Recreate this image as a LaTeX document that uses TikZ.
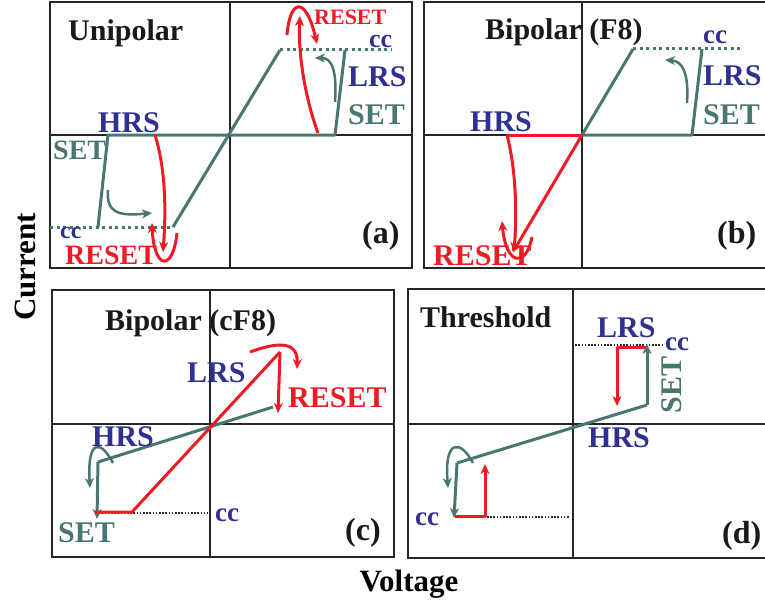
\documentclass[tikz,border=0pt]{standalone}
\usepackage{fontspec}
\setmainfont{Liberation Serif}
\usetikzlibrary{arrows.meta}
\definecolor{setcol}{HTML}{487670}
\definecolor{statecol}{HTML}{2E3192}
\definecolor{resetcol}{HTML}{ED1C24}

\tikzset{
  frame/.style={draw=black!85, line width=1.5pt},
  setline/.style={setcol, line width=3pt, line join=round},
  resetline/.style={resetcol, line width=3pt, line join=round},
  ccline/.style={setcol, line width=3pt, dash pattern=on 3pt off 3.5pt},
  limit/.style={black!85, line width=1.3pt, dash pattern=on 1.6pt off 1.6pt},
  tip/.style={-{Stealth[length=10pt,width=9pt,inset=3pt]}},
  txt/.style={inner sep=0pt, anchor=base west, font=\fontsize{#1}{#1}\selectfont\bfseries},
  txt/.default=30,
  title/.style={txt=30, text=black!90},
  state/.style={txt=#1, text=statecol},
  state/.default=30,
  setlbl/.style={txt=#1, text=setcol},
  setlbl/.default=30,
  resetlbl/.style={txt=#1, text=resetcol},
  resetlbl/.default=30,
  panel/.style={txt=32, text=black!90}
}

\begin{document}
\begin{tikzpicture}[x=1pt, y=-1pt]
\useasboundingbox (0,0) rectangle (765,610);

% (a) Unipolar
\draw[frame] (50,2) rectangle (412,268);
\draw[frame] (50,135) -- (412,135) (230,2) -- (230,268);
\draw[ccline] (50,227) -- (173,227);
\draw[ccline] (280,50) -- (392,50);
\draw[setline] (98,227) -- (108,135) -- (335,135) -- (345,50);
\draw[setline] (173,227) -- (280,50);
\draw[setline, line width=2.5pt, tip] (108,190) .. controls (106,214) and (120,216) .. (152,213);
\draw[setline, line width=2.5pt, tip] (335,102) .. controls (337,70) and (332,58) .. (315,58);
\draw[resetline, tip] (318,133) .. controls (304,95) and (298,50) .. (300,16);
\draw[resetline, tip] (287,35) .. controls (290,-2) and (306,-4) .. (317,44);
\draw[resetline, tip] (155,135) .. controls (166,170) and (166,212) .. (163,252);
\draw[resetline, tip] (177,233) .. controls (173,272) and (154,270) .. (152,223);
\node[title] (uni) at (68,41) {Unipolar};
\node[resetlbl=22] (resetAtop) at (314,25) {RESET};
\node[state=26] (ccAtop) at (369,48) {cc};
\node[state] (lrsA) at (348,86) {LRS};
\node[setlbl] (setAright) at (348,124) {SET};
\node[state] (hrsA) at (98,132) {HRS};
\node[setlbl=28] (setAleft) at (53,159) {SET};
\node[state=24] (ccAbot) at (60,238) {cc};
\node[resetlbl=28] (resetAbot) at (65,264) {RESET};
\node[panel] (labA) at (362,243) {(a)};

% (b) Bipolar (F8)
\draw[frame] (768,2) -- (424,2) -- (424,268) -- (768,268);
\draw[frame] (424,135) -- (768,135) (582,2) -- (582,268);
\draw[ccline] (633,49) -- (743,49);
\draw[setline] (582,135) -- (633,49);
\draw[setline] (582,135) -- (692,135) -- (702,49);
\draw[setline, line width=2.5pt, tip] (687,103) .. controls (689,72) and (682,61) .. (665,60);
\draw[resetline] (507,135) -- (582,135);
\draw[resetline, tip] (582,135) -- (513,252);
\draw[resetline, tip] (507,135) .. controls (516,170) and (517,212) .. (514,252);
\draw[resetline, tip] (532,237) .. controls (526,268) and (506,266) .. (502,221);
\node[title] (bipF) at (485,40) {Bipolar (F8)};
\node[state=27] (ccB) at (703,44) {cc};
\node[state] (lrsB) at (703,85) {LRS};
\node[setlbl] (setB) at (703,124) {SET};
\node[state] (hrsB) at (470,131) {HRS};
\node[resetlbl] (resetB) at (433,265) {RESET};
\node[panel] (labB) at (717,243) {(b)};

% (c) Bipolar (cF8)
\draw[frame] (52,290) rectangle (394,557);
\draw[frame] (52,424) -- (394,424) (210,290) -- (210,557);
\draw[limit] (95,513) -- (208,513);
\draw[setline] (273,407) -- (98,462);
\draw[setline, tip] (98,462) -- (97,519);
\draw[setline, line width=2.5pt, tip] (113,463) .. controls (101,440) and (87,438) .. (90,488);
\draw[resetline] (95,512) -- (132,512) -- (280,352);
\draw[resetline, tip] (280,352) -- (278,413);
\draw[resetline, tip] (250,352) .. controls (272,344) and (298,338) .. (297,369);
\node[title] (bipcF) at (105,330) {Bipolar (cF8)};
\node[state] (lrsC) at (187,382) {LRS};
\node[resetlbl] (resetC) at (288,407) {RESET};
\node[state] (hrsC) at (92,446) {HRS};
\node[setlbl] (setC) at (58,542) {SET};
\node[state=27] (ccC) at (215,521) {cc};
\node[panel] (labC) at (345,540) {(c)};

% (d) Threshold
\draw[frame] (768,289) -- (408,289) -- (408,558) -- (768,558);
\draw[frame] (408,424) -- (768,424) (573,289) -- (573,558);
\draw[limit] (572,345) -- (662,345);
\draw[limit] (455,517) -- (570,517);
\draw[resetline, tip] (647,347) -- (617,347) -- (617,406);
\draw[setline, tip] (647,405) -- (647,344);
\draw[setline] (647,405) -- (457,463);
\draw[setline, tip] (457,463) -- (454,518);
\draw[setline, line width=2.5pt, tip] (473,463) .. controls (461,440) and (444,438) .. (448,488);
\draw[resetline, tip] (455,516) -- (485,516) -- (485,464);
\node[title] (thr) at (420,327) {Threshold};
\node[state] (lrsD) at (597,337) {LRS};
\node[state=27] (ccDtop) at (665,350) {cc};
\node[setlbl, anchor=center, rotate=90] (setD) at (672,385) {SET};
\node[state] (hrsD) at (588,447) {HRS};
\node[state=27] (ccDbot) at (415,525) {cc};
\node[panel] (labD) at (722,543) {(d)};

% axis titles
\node[txt=31, anchor=center, rotate=90] (cur) at (25,267) {Current};
\node[txt=31, anchor=center] (volt) at (409,584) {Voltage};
\end{tikzpicture}
\end{document}
